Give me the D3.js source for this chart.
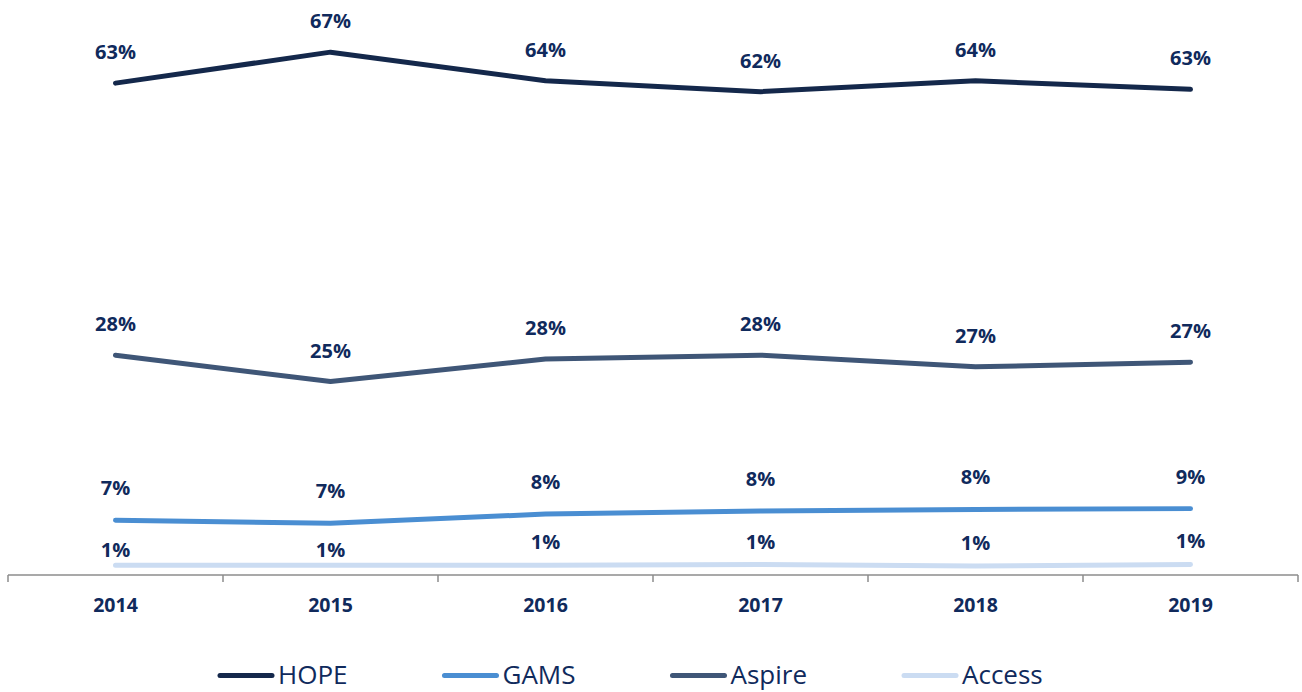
<!DOCTYPE html>
<html>
  <head>
    <title>Program share by year</title>
    <script src="https://d3js.org/d3.v7.min.js"></script>
    <style>
      body { margin: 0; background: #fff; }
      svg { display: block; font-family: "Open Sans", "Noto Sans", sans-serif; }
    </style>
  </head>
  <body>
    <svg width="1302" height="692"></svg>
    <script>
      // data (percent)
      var years = ["2014", "2015", "2016", "2017", "2018", "2019"];
      var hope = [63.4, 67.4, 63.7, 62.3, 63.7, 62.6];
      var gams = [7.0, 6.6, 7.8, 8.2, 8.4, 8.5];
      var aspire = [28.3, 24.9, 27.8, 28.3, 26.8, 27.4];
      var access = [1.2, 1.2, 1.2, 1.3, 1.1, 1.3];

      var seriesNames = ["HOPE", "GAMS", "Aspire", "Access"];
      var seriesValues = [hope, gams, aspire, access];
      var seriesColors = ["#14284b", "#4a8ed2", "#3f5677", "#cbdcf2"];
      var labelColor = "#102a5c";

      var svg = d3.select("svg");

      var x = d3.scaleBand().domain(years).range([8, 1298]).padding(0);
      var y = d3.scaleLinear().domain([0, 70]).range([574.5, 32]);
      var cx = d => x(d) + x.bandwidth() / 2;

      // x axis: boundary ticks between categories
      var axisY = 575;
      svg.append("line")
        .attr("x1", 8).attr("x2", 1298)
        .attr("y1", axisY).attr("y2", axisY)
        .attr("stroke", "#8c8c8c").attr("stroke-width", 1.5);

      var bounds = years.map(d => x(d)).concat([x.range()[1]]);
      svg.selectAll(".tick")
        .data(bounds)
        .enter().append("line")
        .attr("x1", d => d).attr("x2", d => d)
        .attr("y1", axisY).attr("y2", axisY + 7)
        .attr("stroke", "#8c8c8c").attr("stroke-width", 1.5);

      svg.selectAll(".year")
        .data(years)
        .enter().append("text")
        .attr("x", d => cx(d))
        .attr("y", 612)
        .attr("text-anchor", "middle")
        .attr("font-size", "19.5px")
        .attr("font-weight", "bold")
        .attr("fill", labelColor)
        .text(d => d);

      var line = d3.line()
        .x((d, i) => cx(years[i]))
        .y(d => y(d));

      // label offsets above the point (Access labels sit closer)
      var labelOffsets = [
        [24, 24, 24, 24, 24, 24],
        [25, 25, 25, 25, 25, 25],
        [24, 24, 24, 24, 24, 24],
        [8, 8, 16, 15, 16, 16]
      ];

      seriesValues.forEach(function (vals, s) {
        svg.append("path")
          .datum(vals)
          .attr("d", line)
          .attr("fill", "none")
          .attr("stroke", seriesColors[s])
          .attr("stroke-width", 5)
          .attr("stroke-linejoin", "round")
          .attr("stroke-linecap", "round");

        svg.selectAll(".lbl" + s)
          .data(vals)
          .enter().append("text")
          .attr("x", (d, i) => cx(years[i]))
          .attr("y", (d, i) => y(d) - labelOffsets[s][i])
          .attr("text-anchor", "middle")
          .attr("font-size", "20px")
          .attr("font-weight", "bold")
          .attr("fill", labelColor)
          .text(d => Math.round(d) + "%");
      });

      // legend
      var legend = svg.append("g");
      var lx = 220;
      seriesNames.forEach(function (name, s) {
        var g = legend.append("g").attr("transform", "translate(" + lx + ",0)");
        g.append("line")
          .attr("x1", 0).attr("x2", 52)
          .attr("y1", 675.5).attr("y2", 675.5)
          .attr("stroke", seriesColors[s])
          .attr("stroke-width", 5)
          .attr("stroke-linecap", "round");
        var t = g.append("text")
          .attr("x", 58)
          .attr("y", 684)
          .attr("font-size", "26px")
          .attr("fill", labelColor)
          .text(name);
        lx += 58 + t.node().getComputedTextLength() + 97;
      });
    </script>
  </body>
</html>
